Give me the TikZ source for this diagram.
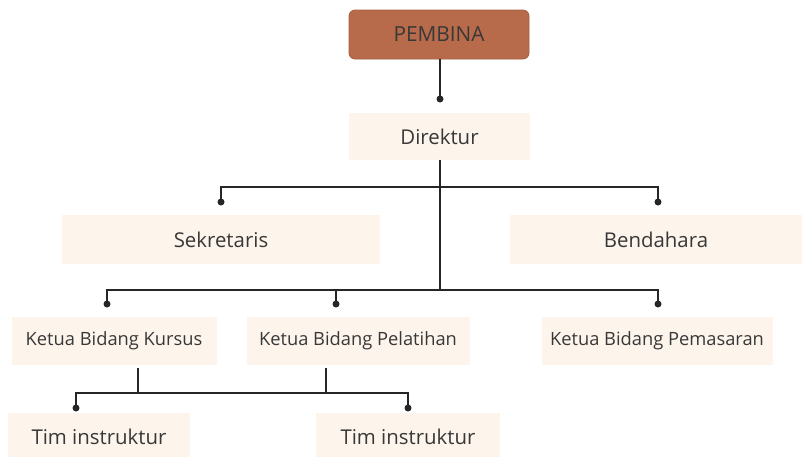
\documentclass[tikz,border=0pt]{standalone}
\usepackage{fontspec}
\setmainfont{Open Sans}
\definecolor{rust}{HTML}{B86B4B}
\definecolor{rustdark}{HTML}{A65E40}
\definecolor{cream}{HTML}{FDF5EC}
\definecolor{ink}{HTML}{383838}
\definecolor{wire}{HTML}{262626}
\begin{document}
\begin{tikzpicture}[x=1pt,y=-1pt,
  box/.style={fill=cream,draw=none,inner sep=0pt,text=ink,font=\fontsize{18.3}{20}\selectfont},
  bigbox/.style={box,font=\fontsize{20.4}{22}\selectfont},
  topbox/.style={fill=rust,draw=rustdark,line width=0.8pt,rounded corners=6pt,text=ink,inner sep=0pt,font=\fontsize{20.8}{22}\selectfont},
  wireline/.style={draw=wire,line width=1.4pt},
  dot/.style={circle,fill=wire,inner sep=0pt,minimum size=7pt}]
\useasboundingbox (0,0) rectangle (802,456);
% boxes
\node[topbox,minimum width=180pt,minimum height=49pt] (pembina) at (439,34.5) {PEMBINA};
\node[bigbox,minimum width=181pt,minimum height=47pt] (direktur) at (439.5,136.5) {Direktur};
\node[bigbox,minimum width=318pt,minimum height=49pt] (sekretaris) at (221,239.5) {Sekretaris};
\node[bigbox,minimum width=292pt,minimum height=49pt] (bendahara) at (656,239.5) {Bendahara};
\node[box,minimum width=205pt,minimum height=48pt] (kursus) at (114,341) {Ketua Bidang Kursus};
\node[box,minimum width=223pt,minimum height=48pt] (pelatihan) at (358,341) {Ketua Bidang Pelatihan};
\node[box,minimum width=231pt,minimum height=48pt] (pemasaran) at (657,341) {Ketua Bidang Pemasaran};
\node[bigbox,minimum width=182pt,minimum height=48pt,anchor=north] (tim1) at (99,413) {\raisebox{-2pt}{Tim instruktur}};
\node[bigbox,minimum width=184pt,minimum height=48pt,anchor=north] (tim2) at (408,413) {\raisebox{-2pt}{Tim instruktur}};
% junction coordinates
\coordinate (dDir) at (440,99);
\coordinate (jTop) at (440,187);
\coordinate (jMid) at (440,290);
\coordinate (dSek) at (221,202);
\coordinate (dBen) at (658,202);
\coordinate (dKur) at (107,304);
\coordinate (dPel) at (336,304);
\coordinate (dPem) at (658,304);
\coordinate (kurDown) at (138,368);
\coordinate (pelDown) at (326,368);
\coordinate (dTim1) at (76,408);
\coordinate (dTim2) at (408,408);
% connectors
\draw[wireline] (pembina.south -| dDir) -- (dDir);
\draw[wireline] (direktur.south -| jTop) -- (jMid);
\draw[wireline] (dSek) -- (dSek |- jTop) -- (dBen |- jTop) -- (dBen);
\draw[wireline] (dKur) -- (dKur |- jMid) -- (dPem |- jMid) -- (dPem);
\draw[wireline] (dPel) -- (dPel |- jMid);
\draw[wireline] (kurDown) -- (kurDown |- 0,393);
\draw[wireline] (pelDown) -- (pelDown |- 0,393);
\draw[wireline] (dTim1) -- (dTim1 |- 0,393) -- (dTim2 |- 0,393) -- (dTim2);
% dots
\foreach \p in {dDir,dSek,dBen,dKur,dPel,dPem,dTim1,dTim2} \node[dot] at (\p) {};
\end{tikzpicture}
\end{document}
